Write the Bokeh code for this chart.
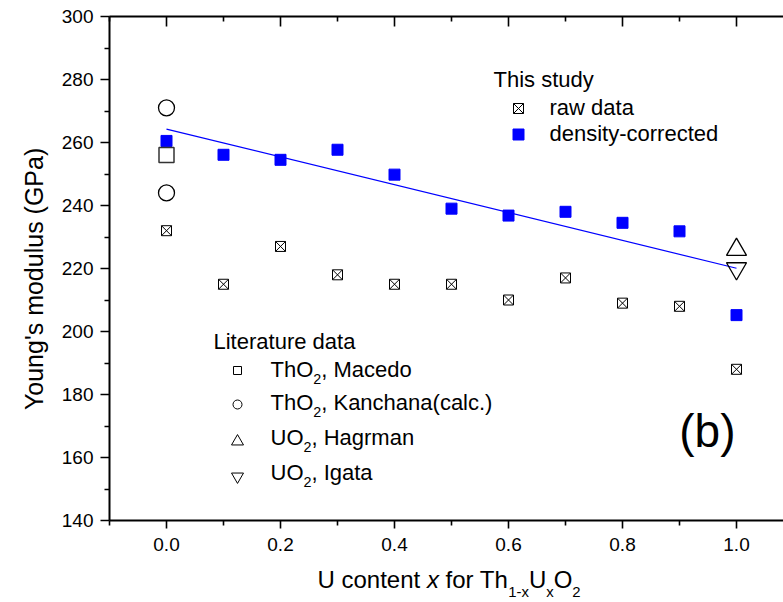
import numpy as np
from bokeh.plotting import figure
from bokeh.layouts import column
from bokeh.models import (FixedTicker, LinearAxis, Label, PrintfTickFormatter,
                          CustomJSTickFormatter, ColumnDataSource, Range1d)
from bokeh.core.properties import value
from bokeh.embed import file_html
from bokeh.resources import INLINE

# ---- data -------------------------------------------------------------
# U content x in Th(1-x)U(x)O2
u_content = [0.0, 0.1, 0.2, 0.3, 0.4, 0.5, 0.6, 0.7, 0.8, 0.9, 1.0]
# Young's modulus (GPa), this study
raw_modulus = [232, 215, 227, 218, 215, 215, 210, 217, 209, 208, 188]
corrected_modulus = [260.5, 256.1, 254.5, 257.7, 249.8, 239.0, 236.8, 238.0, 234.5, 231.8, 205.2]

# literature values
macedo_x, macedo_e = [0.0], [256]
kanchana_x, kanchana_e = [0.0, 0.0], [271, 244]
hagrman_x, hagrman_e = [1.0], [226]
igata_x, igata_e = [1.0], [220]

x_major = [0.0, 0.2, 0.4, 0.6, 0.8, 1.0]
x_minor = [-0.1, 0.1, 0.3, 0.5, 0.7, 0.9]
y_major = [140, 160, 180, 200, 220, 240, 260, 280, 300]
y_minor = [150, 170, 190, 210, 230, 250, 270, 290]

# ---- layout -------------------------------------------------------------
W, H = 783, 602
MAIN_H = 564                 # main plot; the strip below carries the x title
LEFT, TOP, BOTTOM = 109, 16, 44
FRAME_W = W - LEFT
FRAME_H = MAIN_H - TOP - BOTTOM
X0, X_PER_PX = -0.1, 0.1 / 57.0
Y0, Y1 = 140, 300
X_END = X0 + FRAME_W * X_PER_PX
BASE_FIX = -8                # baseline correction for text placed by pixel

FONT = "Liberation Sans"
BLUE = "#0000FF"
NBSP = "\u00a0"


def dx(px):
    return X0 + (px - LEFT) * X_PER_PX


def dy(py):
    return Y1 - (py - TOP) * (Y1 - Y0) / FRAME_H


p = figure(width=W, height=MAIN_H, x_range=(X0, X_END), y_range=(Y0, Y1),
           output_backend="svg", toolbar_location=None,
           min_border_left=LEFT, min_border_right=0,
           min_border_top=TOP, min_border_bottom=BOTTOM)
p.outline_line_color = None
p.grid.visible = False
p.background_fill_color = "white"
p.border_fill_color = "white"

xt = FixedTicker(ticks=x_major, minor_ticks=x_minor)
yt = FixedTicker(ticks=y_major, minor_ticks=y_minor)


def style_axis(ax, tick_in, tick_out, minor_in, minor_out):
    ax.axis_line_width = 2
    ax.axis_line_color = "black"
    ax.major_tick_line_width = 1.6
    ax.minor_tick_line_width = 1.6
    ax.major_tick_line_color = "black"
    ax.minor_tick_line_color = "black"
    ax.major_tick_in = tick_in
    ax.major_tick_out = tick_out
    ax.minor_tick_in = minor_in
    ax.minor_tick_out = minor_out
    ax.major_label_text_font = FONT
    ax.major_label_text_font_size = "19px"
    ax.major_label_text_color = "black"


xa = p.xaxis[0]
xa.ticker = xt
xa.formatter = PrintfTickFormatter(format="%.1f")
style_axis(xa, 0, 8, 0, 5)
xa.major_label_standoff = 9

ya = p.yaxis[0]
ya.ticker = yt
style_axis(ya, 0, 9, 0, 5)
ya.major_label_standoff = 7
ya.axis_label = "Young's modulus (GPa)" + NBSP * 3
ya.axis_label_text_font = FONT
ya.axis_label_text_font_size = "25px"
ya.axis_label_text_font_style = "normal"
ya.axis_label_text_color = "black"
ya.axis_label_standoff = 11

# mirrored top axis: inward ticks only
top = LinearAxis(ticker=xt, formatter=CustomJSTickFormatter(code="return ''"),
                 major_label_standoff=0, axis_label=None)
style_axis(top, 10, 0, 5, 0)
top.major_label_text_font_size = "1px"
p.add_layout(top, "above")

# ---- fit line and data --------------------------------------------------
slope, intercept = np.polyfit(u_content, corrected_modulus, 1)
fit_x = [u_content[0], u_content[-1]]
fit_y = [intercept + slope * v for v in fit_x]
p.line(fit_x, fit_y, line_color=BLUE, line_width=1.2)

p.scatter(u_content, raw_modulus, marker="square_x", size=10,
          fill_color="white", line_color="black", line_width=1)
p.scatter(u_content, corrected_modulus, marker="square", size=11,
          fill_color=BLUE, line_color=BLUE)
p.scatter(macedo_x, macedo_e, marker="square", size=15,
          fill_color=None, line_color="#333333", line_width=1.5)
p.scatter(kanchana_x, kanchana_e, marker="circle", size=16,
          fill_color=None, line_color="black", line_width=1.3)
p.scatter(hagrman_x, hagrman_e, marker="triangle", size=20,
          fill_color=None, line_color="black", line_width=1.3)
p.scatter(igata_x, igata_e, marker="inverted_triangle", size=20,
          fill_color=None, line_color="black", line_width=1.3)

# ---- text helpers -------------------------------------------------------
ARIAL = {" ": 278, NBSP: 278, "(": 333, ")": 333, ",": 278, "-": 333,
         ".": 278, "1": 556, "2": 556, "'": 191, "G": 778, "H": 722,
         "I": 278, "K": 667, "L": 556, "M": 833, "O": 778, "P": 667,
         "T": 611, "U": 722, "a": 556, "b": 556, "c": 500, "d": 556,
         "e": 556, "f": 278, "g": 556, "h": 556, "i": 222, "l": 222,
         "m": 833, "n": 556, "o": 556, "p": 556, "r": 333, "s": 500,
         "t": 278, "u": 556, "w": 722, "x": 500, "y": 500}


def text_width(s, size):
    return sum(ARIAL.get(c, 556) for c in s) * size / 1000.0


def layout_runs(x_px, base_px, runs, size, sub_ratio, sub_drop):
    """Split a line of text into runs with their own position, size and style."""
    xs, ys, texts, sizes, styles = [], [], [], [], []
    cur = x_px
    base = base_px + BASE_FIX
    for txt, kind in runs:
        fs = size * sub_ratio if kind == "sub" else size
        yb = base + size * sub_drop if kind == "sub" else base
        xs.append(cur)
        ys.append(yb)
        texts.append(txt)
        sizes.append(f"{fs:.1f}px")
        styles.append("italic" if kind == "it" else "normal")
        cur += text_width(txt, fs)
    return xs, ys, texts, sizes, styles


def rich_text(x_px, base_px, runs, size, sub_ratio=0.65, sub_drop=0.45):
    for x, y, txt, fs, st in zip(*layout_runs(x_px, base_px, runs, size,
                                             sub_ratio, sub_drop)):
        p.add_layout(Label(x=dx(x), y=dy(y), text=txt, text_font=FONT,
                           text_font_size=fs, text_font_style=st,
                           text_baseline="alphabetic", text_align="left",
                           text_color="black"))


# legend: this study
LEG = 22
rich_text(493, 87, [("This study", "n")], LEG)
p.scatter([dx(518)], [dy(108)], marker="square_x", size=10,
          fill_color="white", line_color="black", line_width=1)
rich_text(549, 115, [("raw data", "n")], LEG)
p.scatter([dx(518)], [dy(134)], marker="square", size=11,
          fill_color=BLUE, line_color=BLUE)
rich_text(549, 141, [("density-corrected", "n")], LEG)

# legend: literature data
rich_text(213, 349, [("Literature data", "n")], LEG)
p.scatter([dx(237)], [dy(370)], marker="square", size=8,
          fill_color=None, line_color="black", line_width=1)
rich_text(270, 377, [("ThO", "n"), ("2", "sub"), (", Macedo", "n")], LEG)
p.scatter([dx(237)], [dy(404)], marker="circle", size=9,
          fill_color=None, line_color="black", line_width=1)
rich_text(270, 410, [("ThO", "n"), ("2", "sub"), (", Kanchana(calc.)", "n")], LEG)
p.scatter([dx(237)], [dy(441)], marker="triangle", size=12,
          fill_color=None, line_color="black", line_width=1)
rich_text(270, 445, [("UO", "n"), ("2", "sub"), (", Hagrman", "n")], LEG)
p.scatter([dx(237)], [dy(476)], marker="inverted_triangle", size=12,
          fill_color=None, line_color="black", line_width=1)
rich_text(270, 480, [("UO", "n"), ("2", "sub"), (", Igata", "n")], LEG)

# panel tag
p.add_layout(Label(x=dx(735), y=dy(438 + BASE_FIX), text="(b)", text_font=FONT,
                   text_font_size="46px", text_align="right",
                   text_baseline="alphabetic", text_color="black"))

# ---- x axis title strip (pixel coordinates of the page) ------------------
strip = figure(width=W, height=H - MAIN_H, x_range=Range1d(LEFT, W),
               y_range=Range1d(H, MAIN_H), output_backend="svg",
               toolbar_location=None, x_axis_type=None, y_axis_type=None,
               min_border_left=LEFT, min_border_right=0,
               min_border_top=0, min_border_bottom=0)
strip.outline_line_color = None
strip.grid.visible = False
strip.border_fill_color = "white"

xs, ys, texts, sizes, styles = layout_runs(
    317, 587,
    [("U content", "n"), (NBSP + "x", "it"), (NBSP + "for Th", "n"),
     ("1-x", "sub"), ("U", "n"), ("x", "sub"), ("O", "n"), ("2", "sub")],
    24, sub_ratio=0.62, sub_drop=0.5)
title_src = ColumnDataSource(dict(x=xs, y=ys, text=texts, size=sizes, style=styles))
strip.text(x="x", y="y", text="text", source=title_src,
           text_font=value(FONT), text_font_size="size",
           text_font_style="style", text_baseline="alphabetic",
           text_align="left", text_color="black")

layout = column(p, strip, spacing=0)
open("out.html", "w").write(file_html(layout, INLINE))
